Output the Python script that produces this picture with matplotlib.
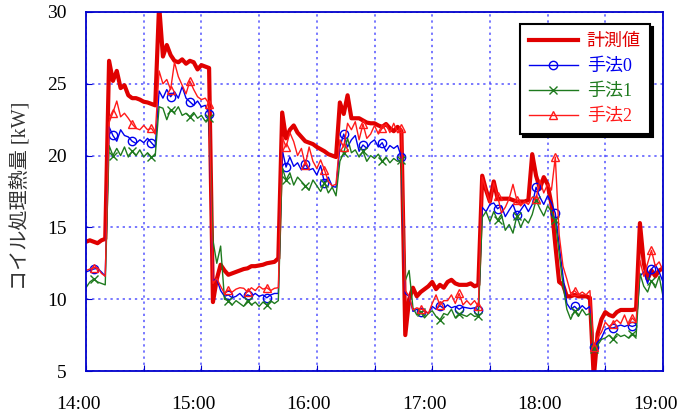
import matplotlib
matplotlib.use("Agg")
import matplotlib.pyplot as plt
import matplotlib.transforms as mtransforms
from matplotlib.font_manager import FontProperties
import numpy as np

# sampling grid: every 2 minutes from 14:00 (0) to 19:00 (300)
minutes = np.arange(0, 302, 2)

# 計測値 (measured coil load, kW)
measured = [
    14.0, 14.1, 14.0, 13.9, 14.1, 14.2, 26.6, 25.2, 25.9, 24.7,
    24.9, 24.2, 24.0, 24.0, 23.9, 23.75, 23.7, 23.6, 23.5, 30.5,
    26.9, 27.7, 27.0, 26.6, 26.5, 26.7, 26.4, 26.6, 26.5, 26.0,
    26.3, 26.2, 26.1, 9.8, 11.4, 12.4, 12.0, 11.7, 11.8, 11.9,
    12.0, 12.1, 12.15, 12.3, 12.3, 12.35, 12.4, 12.5, 12.55, 12.6,
    12.85, 23.0, 21.2, 21.8, 22.1, 21.6, 21.3, 21.0, 20.9, 20.8,
    20.6, 20.45, 20.3, 20.1, 20.0, 19.9, 23.7, 22.9, 24.2, 22.6,
    22.6, 22.6, 22.45, 22.3, 22.25, 22.25, 22.1, 22.0, 22.2, 21.9,
    21.7, 22.0, 21.7, 7.5, 10.0, 10.8, 10.2, 10.5, 10.7, 10.9,
    11.2, 10.7, 11.0, 10.8, 11.2, 11.35, 11.1, 11.0, 11.0, 11.0,
    11.1, 10.9, 11.0, 18.6, 17.6, 16.8, 18.2, 17.0, 17.0, 17.0,
    17.0, 16.9, 16.8, 16.8, 16.8, 16.9, 20.1, 18.6, 17.7, 18.5,
    18.0, 16.6, 13.8, 11.2, 11.0, 10.2, 10.2, 10.3, 10.2, 10.2,
    10.2, 10.1, 4.5, 7.6, 8.6, 9.1, 8.9, 8.8, 9.1, 9.25,
    9.25, 9.25, 9.25, 9.3, 15.3, 12.5, 11.4, 12.0, 11.6, 12.0,
    12.15,
]

# 手法0
method0 = [
    11.9, 12.0, 12.1, 12.15, 11.9, 11.6, 22.0, 21.4, 21.0, 21.8,
    21.4, 21.3, 21.0, 20.85, 21.1, 20.9, 21.2, 20.9, 20.6, 24.5,
    24.0, 24.6, 24.1, 24.45, 24.0, 24.8, 24.0, 23.75, 23.5, 23.8,
    23.4, 23.5, 22.9, 11.3, 11.4, 10.6, 10.2, 10.3, 10.1, 10.2,
    10.4, 10.1, 10.3, 10.2, 10.4, 10.2, 10.3, 10.1, 10.3, 10.4,
    10.4, 20.4, 19.2, 19.9, 19.25, 19.5, 19.0, 19.4, 19.0, 19.1,
    18.65, 19.3, 18.1, 18.5, 17.85, 17.8, 20.6, 21.5, 20.6, 21.1,
    21.4, 20.3, 20.74, 20.5, 20.9, 21.1, 20.6, 20.9, 20.3, 20.7,
    20.5, 20.7, 19.9, 10.4, 10.2, 9.15, 9.3, 9.1, 9.2, 9.0,
    9.5, 9.3, 9.55, 9.35, 9.6, 9.4, 9.5, 9.3, 9.45, 9.4,
    9.35, 9.4, 9.25, 16.4, 16.1, 16.6, 16.7, 16.3, 16.5, 15.75,
    16.2, 16.6, 15.85, 16.2, 16.6, 16.1, 16.6, 17.8, 17.1, 16.6,
    17.2, 16.7, 16.0, 13.8, 11.6, 9.7, 9.3, 9.5, 9.25, 9.55,
    9.3, 9.5, 6.7, 7.0, 7.3, 7.9, 8.0, 8.0, 8.1, 8.2,
    8.1, 8.2, 8.1, 8.2, 11.6, 11.9, 11.1, 12.1, 12.4, 11.9,
    11.2,
]

# 手法1
method1 = [
    10.8, 11.2, 11.4, 11.2, 11.1, 11.0, 20.7, 20.0, 20.5, 20.0,
    20.6, 19.9, 20.3, 20.0, 20.4, 19.9, 20.2, 19.9, 20.0, 23.4,
    23.3, 22.5, 23.2, 23.0, 23.4, 22.8, 22.95, 22.7, 23.0, 22.6,
    22.8, 22.4, 22.6, 14.1, 12.5, 13.7, 10.0, 9.9, 9.6, 9.9,
    9.7, 9.5, 9.9, 9.6, 9.8, 9.5, 9.8, 9.6, 9.9, 9.7,
    9.9, 19.2, 18.3, 18.8, 17.95, 18.5, 18.2, 17.9, 17.6, 18.3,
    17.9, 17.5, 18.1, 17.4, 17.8, 17.2, 19.6, 20.2, 21.2, 20.2,
    20.4, 19.9, 20.3, 19.6, 20.0, 19.8, 20.1, 19.6, 19.9, 19.5,
    19.8, 19.6, 19.7, 11.3, 12.0, 9.4, 8.9, 9.1, 8.7, 9.0,
    9.2, 8.8, 8.55, 9.0, 8.9, 9.3, 8.7, 9.0, 8.9, 8.8,
    9.0, 8.8, 8.85, 15.7, 16.1, 15.4, 16.1, 15.5, 15.9, 14.8,
    15.2, 14.6, 15.8, 15.0, 15.6, 15.3, 15.9, 16.9, 16.3, 15.8,
    16.5, 16.1, 15.5, 13.2, 11.0, 9.3, 8.6, 9.2, 8.8, 9.3,
    8.9, 9.0, 6.5, 6.8, 7.2, 7.3, 7.5, 7.2, 7.6, 7.4,
    7.5, 7.3, 7.6, 7.4, 11.8, 10.9, 10.5, 11.3, 10.8, 11.6,
    10.2,
]

# 手法2
method2 = [
    12.0, 12.1, 12.2, 12.2, 11.8, 11.6, 22.3, 23.0, 23.8, 22.7,
    22.95, 22.6, 22.2, 21.9, 21.8, 22.1, 21.8, 21.9, 21.5, 25.9,
    25.0, 25.3, 24.6, 26.5, 25.5, 24.9, 24.3, 25.2, 24.6, 24.1,
    23.9, 24.0, 23.6, 11.1, 11.45, 10.9, 10.4, 10.64, 10.5, 10.7,
    10.8, 10.76, 10.5, 10.8, 10.6, 10.9, 10.7, 10.8, 10.6, 10.76,
    10.8, 21.3, 20.6, 21.6, 20.97, 20.0, 20.5, 19.35, 20.6, 19.6,
    19.1, 19.7, 19.0, 18.2, 17.9, 18.0, 21.1, 20.6, 22.25, 21.8,
    22.36, 21.1, 22.2, 21.2, 21.5, 22.1, 21.5, 21.9, 22.2, 21.6,
    22.25, 21.6, 21.9, 10.6, 10.2, 9.25, 9.4, 9.3, 9.25, 9.0,
    9.7, 10.3, 9.6, 9.9, 9.9, 10.3, 9.7, 10.4, 9.6, 9.9,
    9.6, 9.9, 9.5, 18.5, 17.6, 16.7, 18.1, 17.2, 16.0, 16.4,
    17.0, 18.0, 16.9, 16.5, 16.8, 16.6, 17.1, 17.0, 18.3, 17.4,
    18.0, 17.6, 19.9, 14.5, 12.3, 11.4, 10.4, 10.6, 10.3, 10.5,
    10.3, 10.6, 6.7, 7.3, 7.7, 8.4, 8.1, 8.3, 8.55, 8.3,
    8.9, 8.2, 8.7, 8.4, 12.7, 11.6, 12.5, 13.4, 12.3, 12.6,
    12.0,
]

series_labels = ["計測値", "手法0", "手法1", "手法2"]
hour_labels = ["14:00", "15:00", "16:00", "17:00", "18:00", "19:00"]
y_label = "コイル処理熱量 [kW]"

SERIF = ["Liberation Serif", "DejaVu Serif"]
JP = ["Liberation Serif", "Noto Sans CJK JP", "DejaVu Sans"]
AXIS_BLUE = "#0000cc"

fig = plt.figure(figsize=(6.77, 4.19), dpi=100)
ax = fig.add_axes([86 / 677, 48 / 419, 577 / 677, 359 / 419])

ax.plot(minutes, measured, color="#e00000", lw=3.0, label=series_labels[0])
ax.plot(minutes, method0, color="#0000ee", lw=1.0, marker="o", ms=6,
        mfc="none", mew=1.0, markevery=(2, 5), label=series_labels[1])
ax.plot(minutes, method1, color="#1e7a1e", lw=1.0, marker="x", ms=6,
        mew=1.0, markevery=(2, 5), label=series_labels[2])
ax.plot(minutes, method2, color="#ff1a1a", lw=1.0, marker="^", ms=6,
        mfc="none", mew=1.0, markevery=(2, 5), label=series_labels[3])

ax.set_xlim(0, 300)
ax.set_ylim(5, 30)
xticks = list(range(0, 301, 30))
ax.set_xticks(xticks)
ax.set_xticklabels([hour_labels[i // 2] if i % 2 == 0 else "" for i in range(len(xticks))])
ax.set_yticks(range(5, 31, 5))

ax.grid(True, color="#3535ff", ls=(0, (1.5, 2.5)), lw=1.1, alpha=0.85)
for sp in ax.spines.values():
    sp.set_color(AXIS_BLUE)
    sp.set_linewidth(1.3)

ax.tick_params(axis="both", direction="in", length=4, color=AXIS_BLUE, labelsize=14)
ax.tick_params(axis="x", pad=18)
ax.tick_params(axis="y", pad=14)
for lab in ax.get_xticklabels() + ax.get_yticklabels():
    lab.set_fontfamily(SERIF)
# hour labels sit a little to the left of their tick
shift = mtransforms.ScaledTranslation(-8 / 100, 0, fig.dpi_scale_trans)
for lab in ax.get_xticklabels():
    lab.set_transform(lab.get_transform() + shift)

fig.text(21 / 677, 1 - 196 / 419, y_label, rotation=90, ha="center", va="center",
         fontsize=14.5, color="#333333", family=JP)

leg = ax.legend(loc="upper right", bbox_to_anchor=(0.977, 0.967), frameon=True,
                fancybox=False, edgecolor="black",
                shadow={"color": "black", "alpha": 1.0},
                prop=FontProperties(family=JP, size=13), labelcolor="linecolor",
                handlelength=2.7, handletextpad=0.5, borderpad=0.5,
                labelspacing=0.45, borderaxespad=0, numpoints=1)
leg.get_frame().set_linewidth(1.5)
leg.get_frame().set_alpha(1.0)

fig.savefig("out.png", dpi=100)
